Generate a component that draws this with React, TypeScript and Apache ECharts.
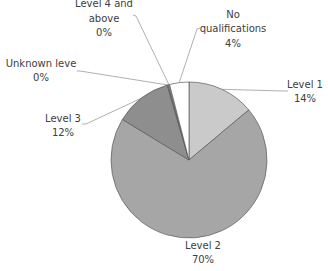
import React, { useEffect, useRef } from "react";
import * as echarts from "echarts";

const categories = ["Level 1", "Level 2", "Level 3", "Unknown leve", "Level 4 and\nabove", "No\nqualifications"];
const values = [13.9, 69.8, 11.8, 0.2, 0.3, 4.0];
const colors = ["#cacaca", "#a6a6a6", "#8e8e8e", "#8e8e8e", "#9a9a9a", "#ffffff"];

const CX = 189;
const CY = 160;
const R = 78;

// label centres and bend points (layout only)
const labelPos: [number, number][] = [
  [305, 91.5],
  [203, 252.5],
  [63, 125.5],
  [41, 70.5],
  [104, 18],
  [233, 28.5],
];
const bends: ([number, number] | null)[][] = [
  [[284, 91], [288, 91]],
  [],
  [[86, 124], [82, 124]],
  [[80, 71], [77, 71]],
  [[136, 16], [133, 15]],
  [[197, 29], [200, 28]],
];

export default function App() {
  const ref = useRef<HTMLDivElement>(null);
  useEffect(() => {
    if (!ref.current) return;
    const chart = echarts.init(ref.current, undefined, { renderer: "svg" });
    const total = values.reduce((a, b) => a + b, 0);
    const edges: [number, number][] = [];
    let acc = 0;
    values.forEach((v) => {
      const mid = ((acc + v / 2) / total) * Math.PI * 2;
      edges.push([CX + R * Math.sin(mid), CY - R * Math.cos(mid)]);
      acc += v;
    });
    chart.setOption({
      animation: false,
      backgroundColor: "#ffffff",
      series: [
        {
          type: "pie",
          center: [CX, CY],
          radius: R,
          startAngle: 90,
          clockwise: true,
          avoidLabelOverlap: false,
          percentPrecision: 0,
          data: categories.map((c, i) => ({
            name: c,
            value: values[i],
            itemStyle: { color: colors[i] },
            labelLine: { show: i !== 1 },
          })),
          itemStyle: { borderColor: "#5a5a5a", borderWidth: 0.7 },
          label: {
            show: true,
            position: "outside",
            formatter: "{b}\n{d}%",
            fontFamily: "DejaVu Sans",
            fontSize: 10,
            lineHeight: 14.5,
            color: "#404040",
            align: "center",
          },
          labelLine: {
            show: true,
            lineStyle: { color: "#9a9a9a", width: 0.8 },
          },
          labelLayout: (params: any) => {
            const i = params.dataIndex;
            const [x, y] = labelPos[i];
            const b = bends[i];
            const res: any = { x, y, align: "center", verticalAlign: "middle" };
            if (b.length) {
              res.labelLinePoints = [edges[i], b[0], b[1]];
            }
            return res;
          },
        },
      ],
    });
    return () => chart.dispose();
  }, []);
  return (
    <div
      ref={ref}
      style={{ position: "absolute", left: 0, top: 0, width: 328, height: 271 }}
    />
  );
}
